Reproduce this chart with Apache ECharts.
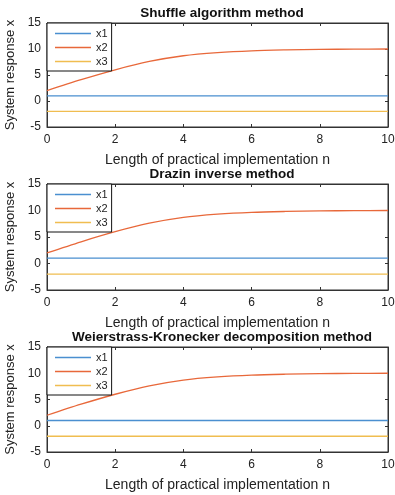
<!DOCTYPE html>
<html><head><meta charset="utf-8">
<script src="https://cdn.jsdelivr.net/npm/echarts@6/dist/echarts.min.js"></script>
<style>html,body{margin:0;padding:0;background:#fff}#c{width:395px;height:495px}</style>
</head><body><div id="c"></div>
<script>
const nValues = [0,1,2,3,4,5,6,7,8,9,10];
const x1Values = [1,1,1,1,1,1,1,1,1,1,1];
const x2Values = [2,4.1,6.0,7.6,8.7,9.3,9.65,9.82,9.92,9.97,10];
const x3Values = [-2,-2,-2,-2,-2,-2,-2,-2,-2,-2,-2];
const titles = ['Shuffle algorithm method','Drazin inverse method','Weierstrass-Kronecker decomposition method'];
const xTicks = [0,2,4,6,8,10];
const yTicks = [-5,0,5,10,15];
const seriesNames = ['x1','x2','x3'];
const colors = ['#4a8fd0','#e8683a','#f0bd50'];

const tops = [23,184,347];
const heights = [104,106,105];
const font = 'Liberation Sans, Arial, sans-serif';
const grids=[], xAxes=[], yAxes=[], series=[], legends=[], titleArr=[];
const allData=[x1Values,x2Values,x3Values];
tops.forEach((t,i)=>{
  grids.push({left:47,right:7,top:t,height:heights[i],show:true,borderColor:'#333',borderWidth:1,
    backgroundColor:'transparent',containLabel:false,outerBoundsMode:'none'});
  const xb={gridIndex:i,type:'value',min:xTicks[0],max:xTicks[xTicks.length-1],interval:2,
    axisLine:{show:true,onZero:false,lineStyle:{color:'#333'}},
    axisTick:{show:true,inside:true,length:3,lineStyle:{color:'#333'}},
    splitLine:{show:false}};
  xAxes.push(Object.assign({},xb,{position:'bottom',
    axisLabel:{color:'#222',fontSize:12,fontFamily:font,margin:7},
    name:'Length of practical implementation n',nameLocation:'middle',nameGap:26,
    nameTextStyle:{color:'#222',fontSize:14,fontFamily:font}}));
  xAxes.push(Object.assign({},xb,{position:'top',axisLabel:{show:false}}));
  const yb={gridIndex:i,type:'value',min:yTicks[0],max:yTicks[yTicks.length-1],interval:5,
    axisLine:{show:true,onZero:false,lineStyle:{color:'#333'}},
    axisTick:{show:true,inside:true,length:3,lineStyle:{color:'#333'}},
    splitLine:{show:false}};
  yAxes.push(Object.assign({},yb,{position:'left',
    axisLabel:{color:'#222',fontSize:12,fontFamily:font,margin:6},
    name:'System response x',nameLocation:'middle',nameGap:27,
    nameTextStyle:{color:'#222',fontSize:13,fontFamily:font}}));
  yAxes.push(Object.assign({},yb,{position:'right',axisLabel:{show:false}}));
  seriesNames.forEach((nm,k)=>{
    series.push({name:nm,type:'line',xAxisIndex:2*i,yAxisIndex:2*i,
      data:nValues.map((n,j)=>[n,allData[k][j]]),
      symbol:'none',smooth:k===1?0.3:false,lineStyle:{width:1.3,color:colors[k]},itemStyle:{color:colors[k]}});
  });
  legends.push({orient:'vertical',left:47,top:t,data:seriesNames,
    icon:'rect',
    borderColor:'#111',borderWidth:1,backgroundColor:'#fff',padding:[5,4,4,8],
    itemWidth:36,itemHeight:1.5,itemGap:3,
    textStyle:{color:'#222',fontSize:11,fontFamily:font},selectedMode:false});
  titleArr.push({text:titles[i],left:217,textAlign:'center',top:t-22,
    textStyle:{fontSize:13.5,fontWeight:'bold',color:'#111',fontFamily:font}});
});
const chart=echarts.init(document.getElementById('c'),null,{renderer:'canvas'});
chart.setOption({animation:false,color:colors,title:titleArr,grid:grids,xAxis:xAxes,yAxis:yAxes,series:series,legend:legends});
</script></body></html>
